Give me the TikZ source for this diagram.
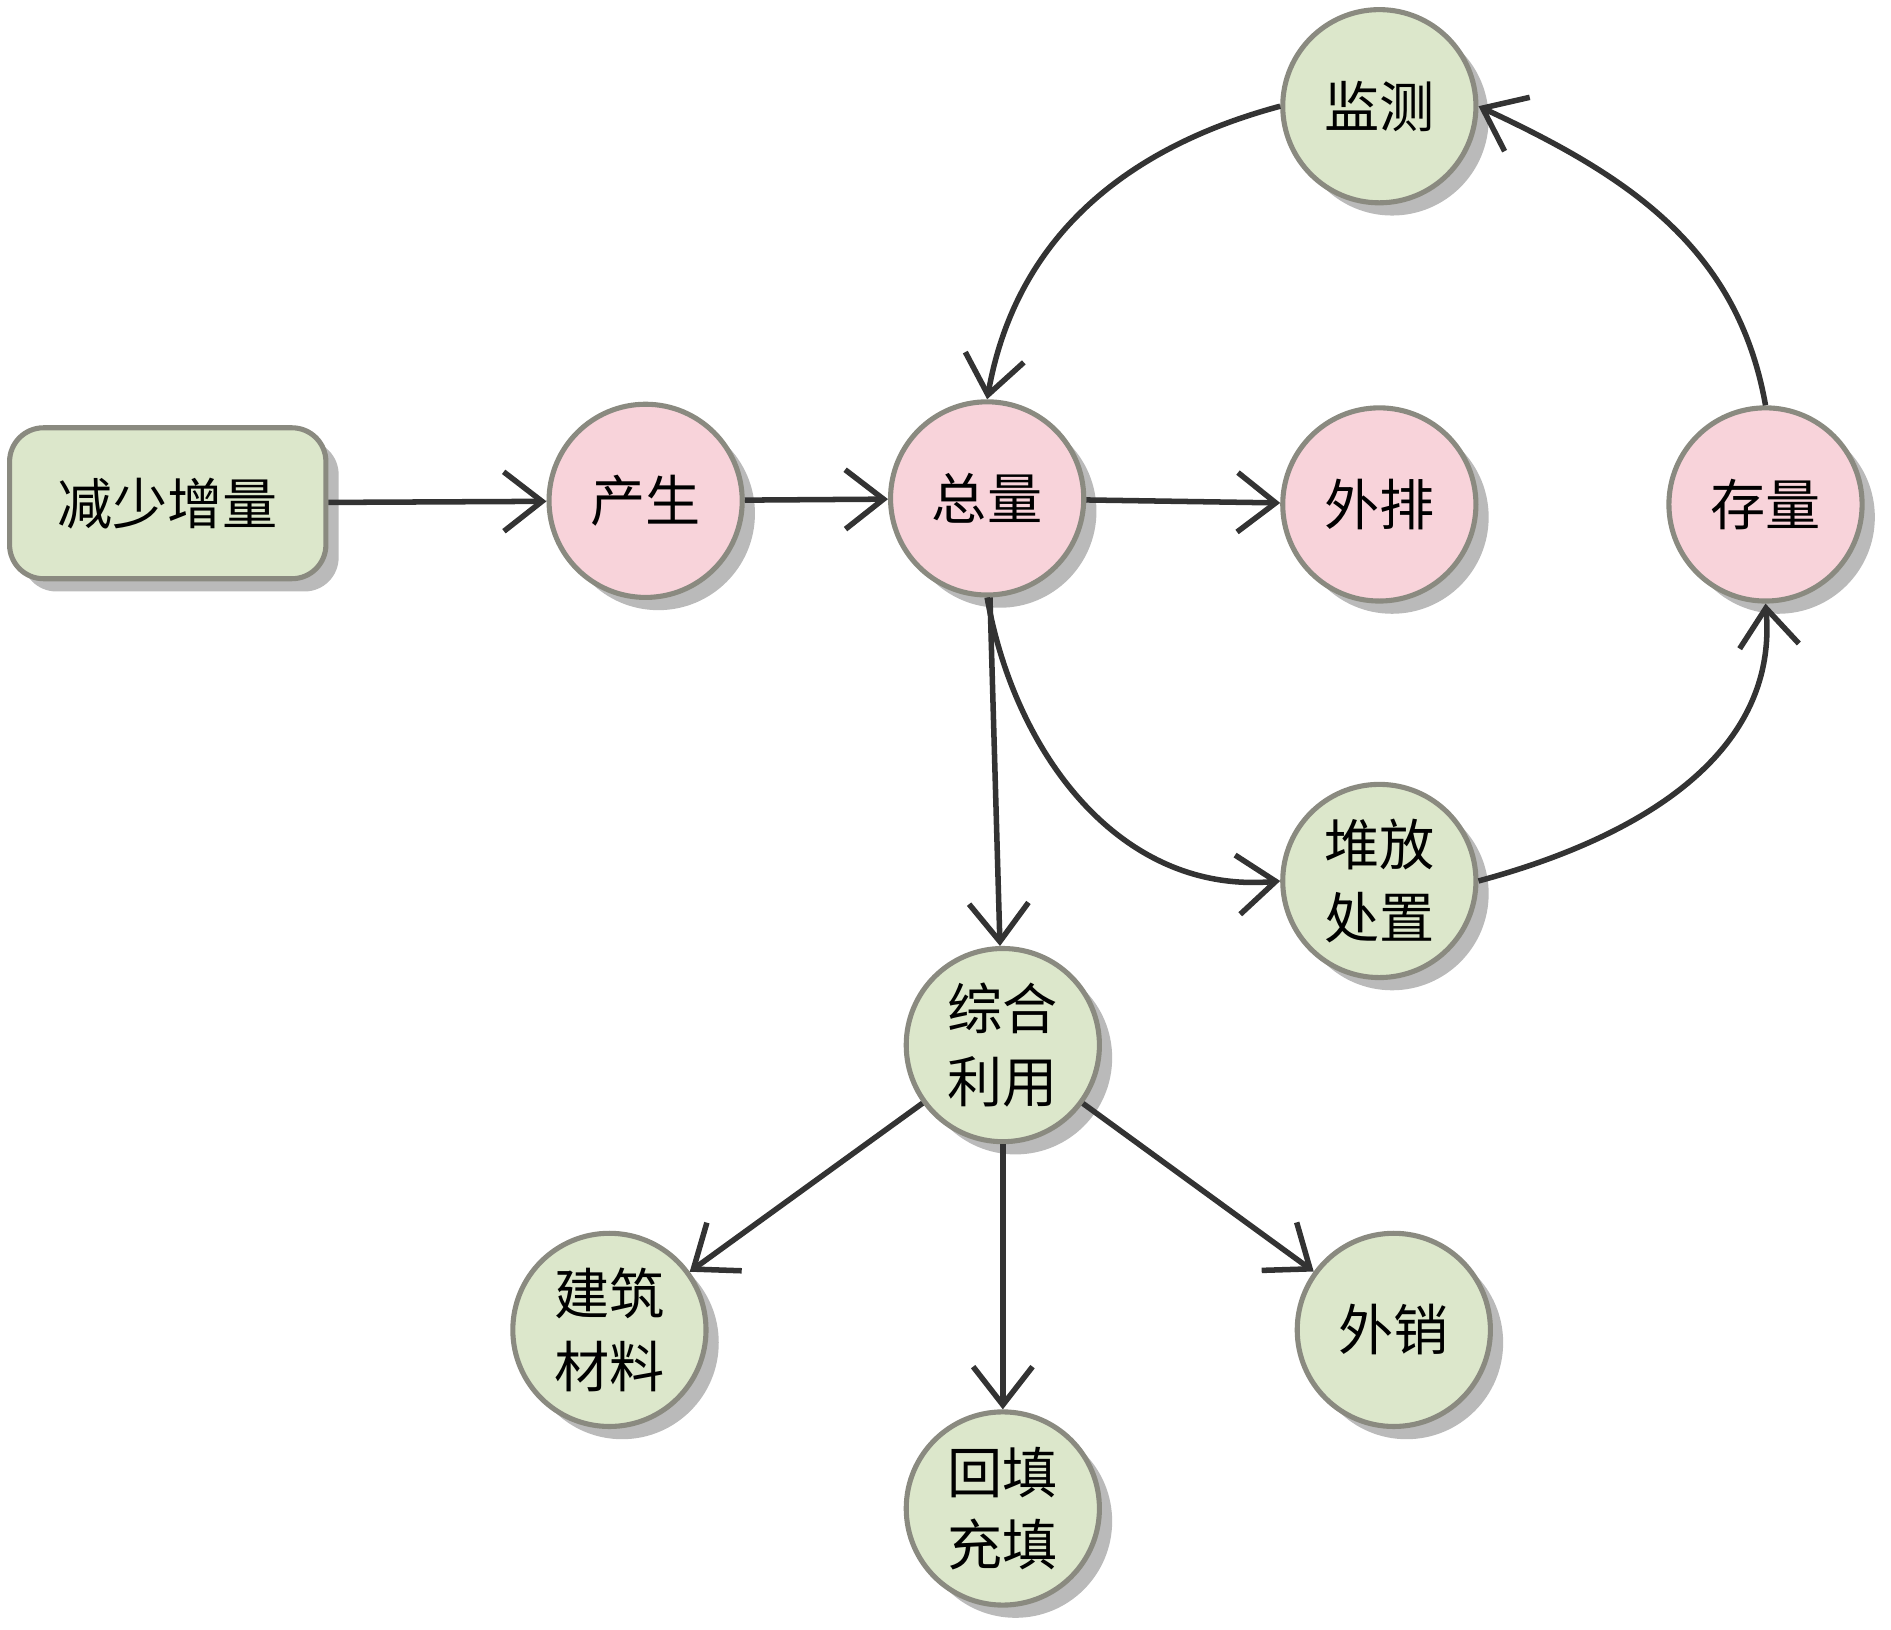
\documentclass[tikz,border=0pt]{standalone}
\usepackage{fontspec}
\newfontfamily\cjk{Noto Sans CJK SC}
\usetikzlibrary{arrows.meta,shadows}
\definecolor{pinkf}{HTML}{F8D3DA}
\definecolor{greenf}{HTML}{DCE7CB}
\definecolor{bord}{HTML}{8A8A80}
\tikzset{
 base/.style={draw=bord,line width=1.2pt,font=\cjk\fontsize{13}{17}\selectfont,align=center,
   drop shadow={shadow xshift=3pt,shadow yshift=-3pt,fill=black!45,opacity=0.6}},
 pc/.style={base,circle,fill=pinkf,minimum size=1.6cm,inner sep=0pt},
 gc/.style={base,circle,fill=greenf,minimum size=1.6cm,inner sep=0pt},
 gr/.style={base,rounded corners=8pt,fill=greenf,minimum width=2.62cm,minimum height=1.25cm},
 arr/.style={draw=black!80,line width=1.3pt,-{Straight Barb[length=9pt,width=14pt,line width=1.3pt]}}
}
\begin{document}
\begin{tikzpicture}[x=0.01cm,y=-0.01cm]
\useasboundingbox (0,0) rectangle (1567,1350);
\node[gr] (a) at (139,417) {减少增量};
\node[pc] (b) at (535,415) {产生};
\node[pc] (c) at (818,413) {总量};
\node[pc] (d) at (1143,418) {外排};
\node[pc] (e) at (1463,418) {存量};
\node[gc] (f) at (1143,88) {监测};
\node[gc] (g) at (1143,730) {堆放\\处置};
\node[gc] (h) at (831,866) {综合\\利用};
\node[gc] (i) at (505,1102) {建筑\\材料};
\node[gc] (j) at (831,1250) {回填\\充填};
\node[gc] (k) at (1155,1102) {外销};
\draw[arr] (a) -- (b);
\draw[arr] (b) -- (c);
\draw[arr] (c) -- (d);
\draw[arr] (c) -- (h);
\draw[arr] (h) -- (i);
\draw[arr] (h) -- (j);
\draw[arr] (h) -- (k);
\draw[arr] (f.west) to[out=195,in=80] (c.north);
\draw[arr] (e.north) to[out=100,in=-25] (f.east);
\draw[arr] (c.south) to[out=-80,in=185] (g.west);
\draw[arr] (g.east) to[out=15,in=-85] (e.south);
\end{tikzpicture}
\end{document}
